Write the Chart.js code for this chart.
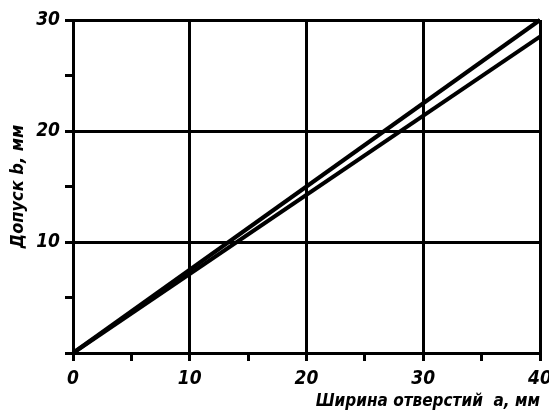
<!DOCTYPE html>
<html>
<head>
<meta charset="utf-8">
<script src="https://cdn.jsdelivr.net/npm/chart.js@4/dist/chart.umd.min.js"></script>
<style>
  html, body { margin: 0; padding: 0; background: #fff; }
  #wrap { width: 549px; height: 412px; }
</style>
</head>
<body>
<div id="wrap"><canvas id="tolerance_chart"></canvas></div>
<script>
// ширина отверстий a, мм
var widths = [0, 40];
// допуск b, мм - две прямые
var upperTol = [0, 30];
var lowerTol = [0, 28.5];

var xTicks = [0, 10, 20, 30, 40];
var yTicks = [10, 20, 30];

var font = "'DejaVu Sans Condensed', 'DejaVu Sans', sans-serif";

function pts(ys) {
	var out = [];
	for (var i = 0; i < widths.length; i++) {
		out.push({x: widths[i], y: ys[i]});
	}
	return out;
}

var ctx = document.getElementById('tolerance_chart');

var chartData = {
	datasets: [{
		data: pts(upperTol),
		borderColor: '#000',
		borderWidth: 4,
		pointRadius: 0,
		showLine: true,
		clip: false
	}, {
		data: pts(lowerTol),
		borderColor: '#000',
		borderWidth: 4,
		pointRadius: 0,
		showLine: true,
		clip: false
	}]
};

var chartOptions = {
	responsive: true,
	maintainAspectRatio: false,
	animation: false,
	layout: { padding: { top: 20, right: 9, left: 8, bottom: 0 } },
	plugins: { legend: { display: false }, tooltip: { enabled: false } },
	scales: {
		x: {
			type: 'linear',
			min: 0, max: 40,
			afterFit: function(s) { s.height = 59; s.paddingRight = 0; s.paddingLeft = 0; },
			ticks: {
				stepSize: 5,
				autoSkip: false,
				maxRotation: 0,
				color: '#000',
				padding: 7,
				font: { family: font, size: 19, style: 'italic', weight: 'bold' },
				callback: function(v) { return xTicks.indexOf(v) >= 0 ? String(v) : ''; }
			},
			grid: {
				lineWidth: 3,
				color: function(c) { return c.tick && c.tick.value % 10 === 0 ? '#000' : 'transparent'; },
				tickColor: '#000',
				tickWidth: 3,
				tickLength: 8
			},
			border: { display: true, color: '#000', width: 3 },
			title: {
				display: true,
				text: 'Ширина отверстий  a, мм',
				align: 'end',
				color: '#000',
				padding: 0,
				font: { family: font, size: 17, style: 'italic', weight: 'bold' }
			}
		},
		y: {
			type: 'linear',
			min: 0, max: 30,
			afterFit: function(s) { s.width = 65; s.paddingTop = 0; s.paddingBottom = 0; },
			ticks: {
				stepSize: 5,
				autoSkip: false,
				color: '#000',
				padding: 5,
				font: { family: font, size: 19, style: 'italic', weight: 'bold' },
				callback: function(v) { return yTicks.indexOf(v) >= 0 ? String(v) : ''; }
			},
			grid: {
				lineWidth: 3,
				color: function(c) { return c.tick && c.tick.value % 10 === 0 ? '#000' : 'transparent'; },
				tickColor: '#000',
				tickWidth: 3,
				tickLength: 8
			},
			border: { display: true, color: '#000', width: 3 },
			title: {
				display: true,
				text: 'Допуск b, мм',
				color: '#000',
				padding: 0,
				font: { family: font, size: 18, style: 'italic', weight: 'bold' }
			}
		}
	}
};

var config = {
	type: 'scatter',
	data: chartData,
	options: chartOptions
};

var toleranceChart = new Chart(ctx, config);
</script>
</body>
</html>
